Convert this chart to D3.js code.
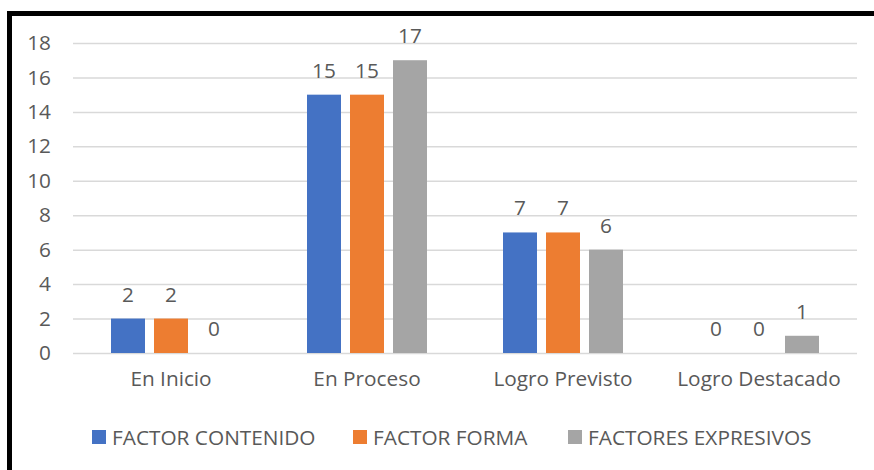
<!DOCTYPE html>
<html>
<head>
<meta charset="utf-8">
<script src="https://cdn.jsdelivr.net/npm/d3@7"></script>
<style>
  html, body { margin: 0; padding: 0; background: #fff; }
  text { font-family: "Open Sans", "Noto Sans", sans-serif; fill: #595959; }
</style>
</head>
<body>
<div class="chart"></div>
<script>
// DATA ------------------------------
const categories = ['En Inicio', 'En Proceso', 'Logro Previsto', 'Logro Destacado'];
const series = ['FACTOR CONTENIDO', 'FACTOR FORMA', 'FACTORES EXPRESIVOS'];
const contenido = [2, 15, 7, 0];
const forma = [2, 15, 7, 0];
const expresivos = [0, 17, 6, 1];
const yTicks = [0, 2, 4, 6, 8, 10, 12, 14, 16, 18];
const colors = ['#4472C4', '#ED7D31', '#A5A5A5'];

const values = [contenido, forma, expresivos];

// CHART INIT ------------------------------
const width = 874, height = 470;
const plot = { left: 73, right: 857, top: 43, bottom: 353 };
const fontSize = 20.8;

let svg = d3.select('.chart')
    .append('svg')
    .attr('width', width)
    .attr('height', height);

// black frame (runs past the picture on the right and bottom)
svg.append('rect')
    .attr('x', 9.5)
    .attr('y', 13.5)
    .attr('width', 900)
    .attr('height', 500)
    .attr('fill', 'none')
    .attr('stroke', '#000')
    .attr('stroke-width', 5);

const x0 = d3.scaleBand()
    .domain(categories)
    .range([plot.left, plot.right])
    .padding(0);

const groupWidth = 120;
const x1 = d3.scaleBand()
    .domain(series)
    .range([0, groupWidth])
    .paddingInner(9 / 43)
    .paddingOuter(0);

const yScale = d3.scaleLinear()
    .domain([0, 18])
    .range([plot.bottom, plot.top]);

// gridlines + y labels
const yAxis = d3.axisLeft(yScale)
    .tickValues(yTicks)
    .tickSize(-(plot.right - plot.left))
    .tickPadding(22);

let yDisplay = svg.append('g')
    .attr('transform', `translate(${plot.left},0)`)
    .call(yAxis);

yDisplay.select('.domain').remove();
yDisplay.selectAll('.tick line')
    .attr('stroke', '#d9d9d9')
    .attr('stroke-width', 1.5);
yDisplay.selectAll('.tick text')
    .attr('font-size', fontSize)
    .attr('fill', '#595959')
    .style('font-family', '"Open Sans", sans-serif');

// x category labels
const xAxis = d3.axisBottom(x0).tickSize(0).tickPadding(18);
let xDisplay = svg.append('g')
    .attr('transform', `translate(0,${plot.bottom})`)
    .call(xAxis);
xDisplay.select('.domain').remove();
xDisplay.selectAll('.tick text')
    .attr('font-size', fontSize)
    .attr('fill', '#595959')
    .style('font-family', '"Open Sans", sans-serif');

// bars
const rows = [];
categories.forEach((c, i) => {
    series.forEach((s, j) => {
        rows.push({ cat: c, ser: s, value: values[j][i], color: colors[j] });
    });
});

const offset = (x0.bandwidth() - groupWidth) / 2;

svg.append('g')
    .selectAll('rect')
    .data(rows)
    .enter()
    .append('rect')
    .attr('x', d => x0(d.cat) + offset + x1(d.ser))
    .attr('y', d => yScale(d.value))
    .attr('width', x1.bandwidth())
    .attr('height', d => plot.bottom - yScale(d.value))
    .attr('fill', d => d.color);

// data labels
svg.append('g')
    .selectAll('text')
    .data(rows)
    .enter()
    .append('text')
    .attr('x', d => x0(d.cat) + offset + x1(d.ser) + x1.bandwidth() / 2)
    .attr('y', d => yScale(d.value) - 25)
    .attr('text-anchor', 'middle')
    .attr('dominant-baseline', 'central')
    .attr('font-size', fontSize)
    .text(d => d.value);

// legend
const legendX = [92, 353, 568];
const legend = svg.append('g')
    .selectAll('g')
    .data(series)
    .enter()
    .append('g')
    .attr('transform', (d, i) => `translate(${legendX[i]},437)`);

legend.append('rect')
    .attr('x', 0)
    .attr('y', -7)
    .attr('width', 14)
    .attr('height', 14)
    .attr('fill', (d, i) => colors[i]);

legend.append('text')
    .attr('x', 20)
    .attr('y', 0)
    .attr('dominant-baseline', 'central')
    .attr('font-size', fontSize)
    .text(d => d);
</script>
</body>
</html>
